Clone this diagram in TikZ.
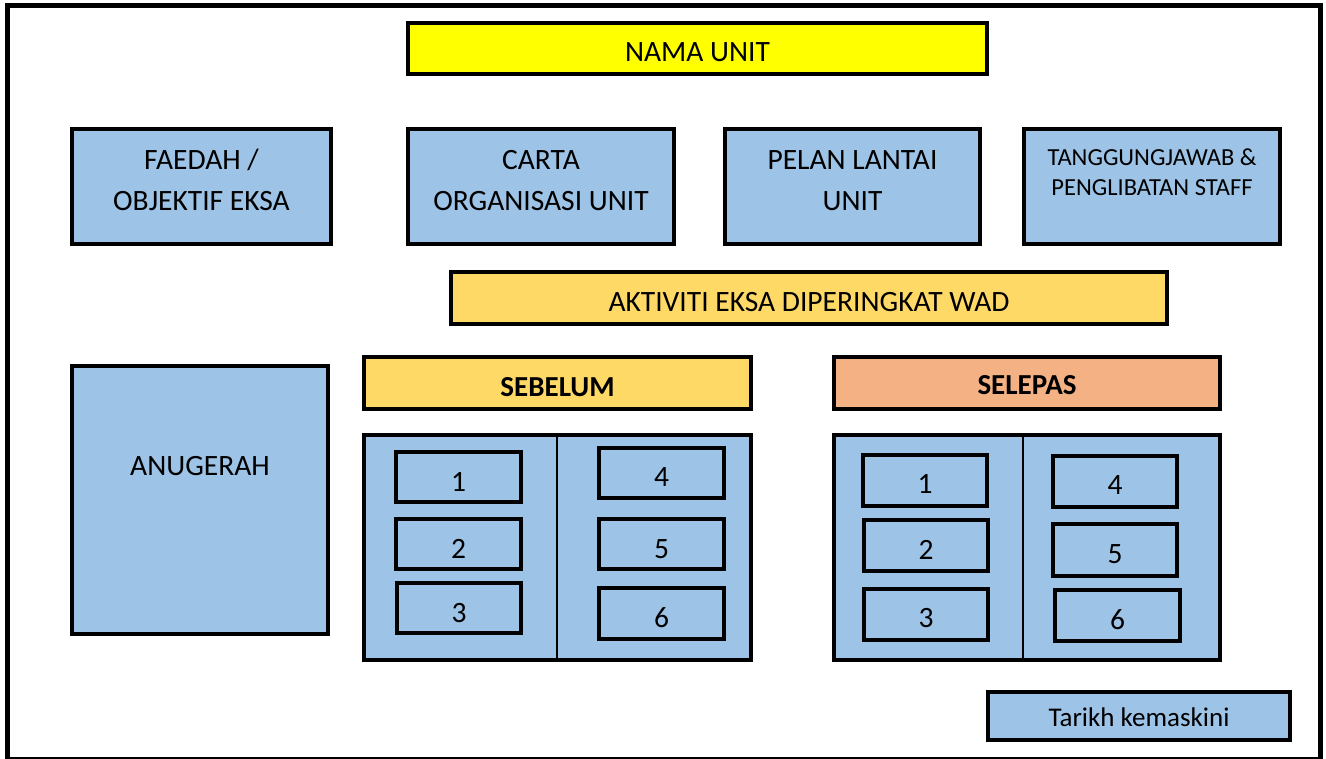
\documentclass[tikz,border=0pt]{standalone}
\usepackage{fontspec}
\setmainfont{Carlito}
\definecolor{boxblue}{HTML}{9DC3E6}
\definecolor{boxyellow}{HTML}{FFFF00}
\definecolor{boxgold}{HTML}{FFD966}
\definecolor{boxorange}{HTML}{F4B183}
\tikzset{
  frame/.style={draw=black, line width=5pt},
  boxbase/.style={draw=black, line width=4pt, inner sep=0pt, outer sep=0pt, rectangle},
  bluebox/.style={boxbase, fill=boxblue},
  yellowbox/.style={boxbase, fill=boxyellow},
  goldbox/.style={boxbase, fill=boxgold},
  orangebox/.style={boxbase, fill=boxorange},
  divline/.style={draw=black, line width=1.5pt},
  txt/.style={inner sep=0pt, anchor=base, font=\fontsize{29.5}{35}\selectfont},
  smalltxt/.style={inner sep=0pt, anchor=base, font=\fontsize{24.5}{29}\selectfont},
  boldtxt/.style={inner sep=0pt, anchor=base, font=\fontsize{29}{35}\selectfont\bfseries},
}
\newcommand\bx[6]{\node[#6, minimum width={(#4)-(#2)-4}, minimum height={(#5)-(#3)-4}] (#1) at ({((#2)+(#4))/2},{((#3)+(#5))/2}) {};}
\begin{document}
\begin{tikzpicture}[x=1pt,y=-1pt]
\useasboundingbox (0,0) rectangle (1326,759);
\fill[white] (0,0) rectangle (1326,759);
\draw[frame] (7.5,6) rectangle (1320.5,759.5);
% top row
\bx{nama}{406}{21}{989}{76}{yellowbox}
\node[txt] (namaT) at (nama.center |- 0,62) {NAMA UNIT};
\bx{faedah}{70}{127}{333}{246}{bluebox}
\node[txt] (faedahA) at (faedah.center |- 0,170) {FAEDAH /};
\node[txt] (faedahB) at (faedah.center |- 0,211) {OBJEKTIF EKSA};
\bx{carta}{406}{127}{676}{246}{bluebox}
\node[txt] (cartaA) at (carta.center |- 0,170) {CARTA};
\node[txt] (cartaB) at (carta.center |- 0,211) {ORGANISASI UNIT};
\bx{pelan}{723}{127}{982}{246}{bluebox}
\node[txt] (pelanA) at (pelan.center |- 0,170) {PELAN LANTAI};
\node[txt] (pelanB) at (pelan.center |- 0,211) {UNIT};
\bx{tangg}{1022}{127}{1282}{246}{bluebox}
\node[smalltxt] (tanggA) at (tangg.center |- 0,166) {TANGGUNGJAWAB \&};
\node[smalltxt] (tanggB) at (tangg.center |- 0,196) {PENGLIBATAN STAFF};
% activity bar
\bx{akt}{449}{270}{1169}{326}{goldbox}
\node[txt] (aktT) at (akt.center |- 0,312) {AKTIVITI EKSA DIPERINGKAT WAD};
% anugerah
\bx{anug}{70}{364}{330}{636}{bluebox}
\node[txt] (anugT) at (anug.center |- 0,475) {ANUGERAH};
% sebelum
\bx{sebH}{362}{355}{753}{411}{goldbox}
\node[boldtxt] (sebHT) at (sebH.center |- 0,396) {SEBELUM};
\bx{sebP}{362}{433}{753}{662}{bluebox}
\coordinate (sebDivT) at (557,435);
\coordinate (sebDivB) at (557,660);
\draw[divline] (sebDivT) -- (sebDivB);
\bx{s1}{394}{450}{523}{504}{bluebox}
\node[txt] (s1T) at (s1.center |- 0,491) {1};
\bx{s2}{394}{517}{523}{571}{bluebox}
\node[txt] (s2T) at (s2.center |- 0,558) {2};
\bx{s3}{395}{581}{523}{635}{bluebox}
\node[txt] (s3T) at (s3.center |- 0,622) {3};
\bx{s4}{597}{446}{726}{500}{bluebox}
\node[txt] (s4T) at (s4.center |- 0,486) {4};
\bx{s5}{597}{517}{726}{571}{bluebox}
\node[txt] (s5T) at (s5.center |- 0,558) {5};
\bx{s6}{597}{586}{726}{641}{bluebox}
\node[txt] (s6T) at (s6.center |- 0,627) {6};
% selepas
\bx{selH}{832}{355}{1222}{411}{orangebox}
\node[boldtxt] (selHT) at (selH.center |- 0,395) {SELEPAS};
\bx{selP}{832}{433}{1222}{662}{bluebox}
\coordinate (selDivT) at (1023,435);
\coordinate (selDivB) at (1023,660);
\draw[divline] (selDivT) -- (selDivB);
\bx{p1}{861}{453}{989}{508}{bluebox}
\node[txt] (p1T) at (p1.center |- 0,493) {1};
\bx{p2}{862}{518}{990}{573}{bluebox}
\node[txt] (p2T) at (p2.center |- 0,559) {2};
\bx{p3}{862}{587}{990}{642}{bluebox}
\node[txt] (p3T) at (p3.center |- 0,627) {3};
\bx{p4}{1051}{454}{1179}{509}{bluebox}
\node[txt] (p4T) at (p4.center |- 0,494) {4};
\bx{p5}{1051}{522}{1179}{578}{bluebox}
\node[txt] (p5T) at (p5.center |- 0,563) {5};
\bx{p6}{1053}{588}{1182}{643}{bluebox}
\node[txt] (p6T) at (p6.center |- 0,629) {6};
% date
\bx{tarikh}{986}{690}{1292}{742}{bluebox}
\node[txt, font=\fontsize{27}{32}\selectfont] (tarikhT) at (tarikh.center |- 0,726) {Tarikh kemaskini};
\end{tikzpicture}
\end{document}
